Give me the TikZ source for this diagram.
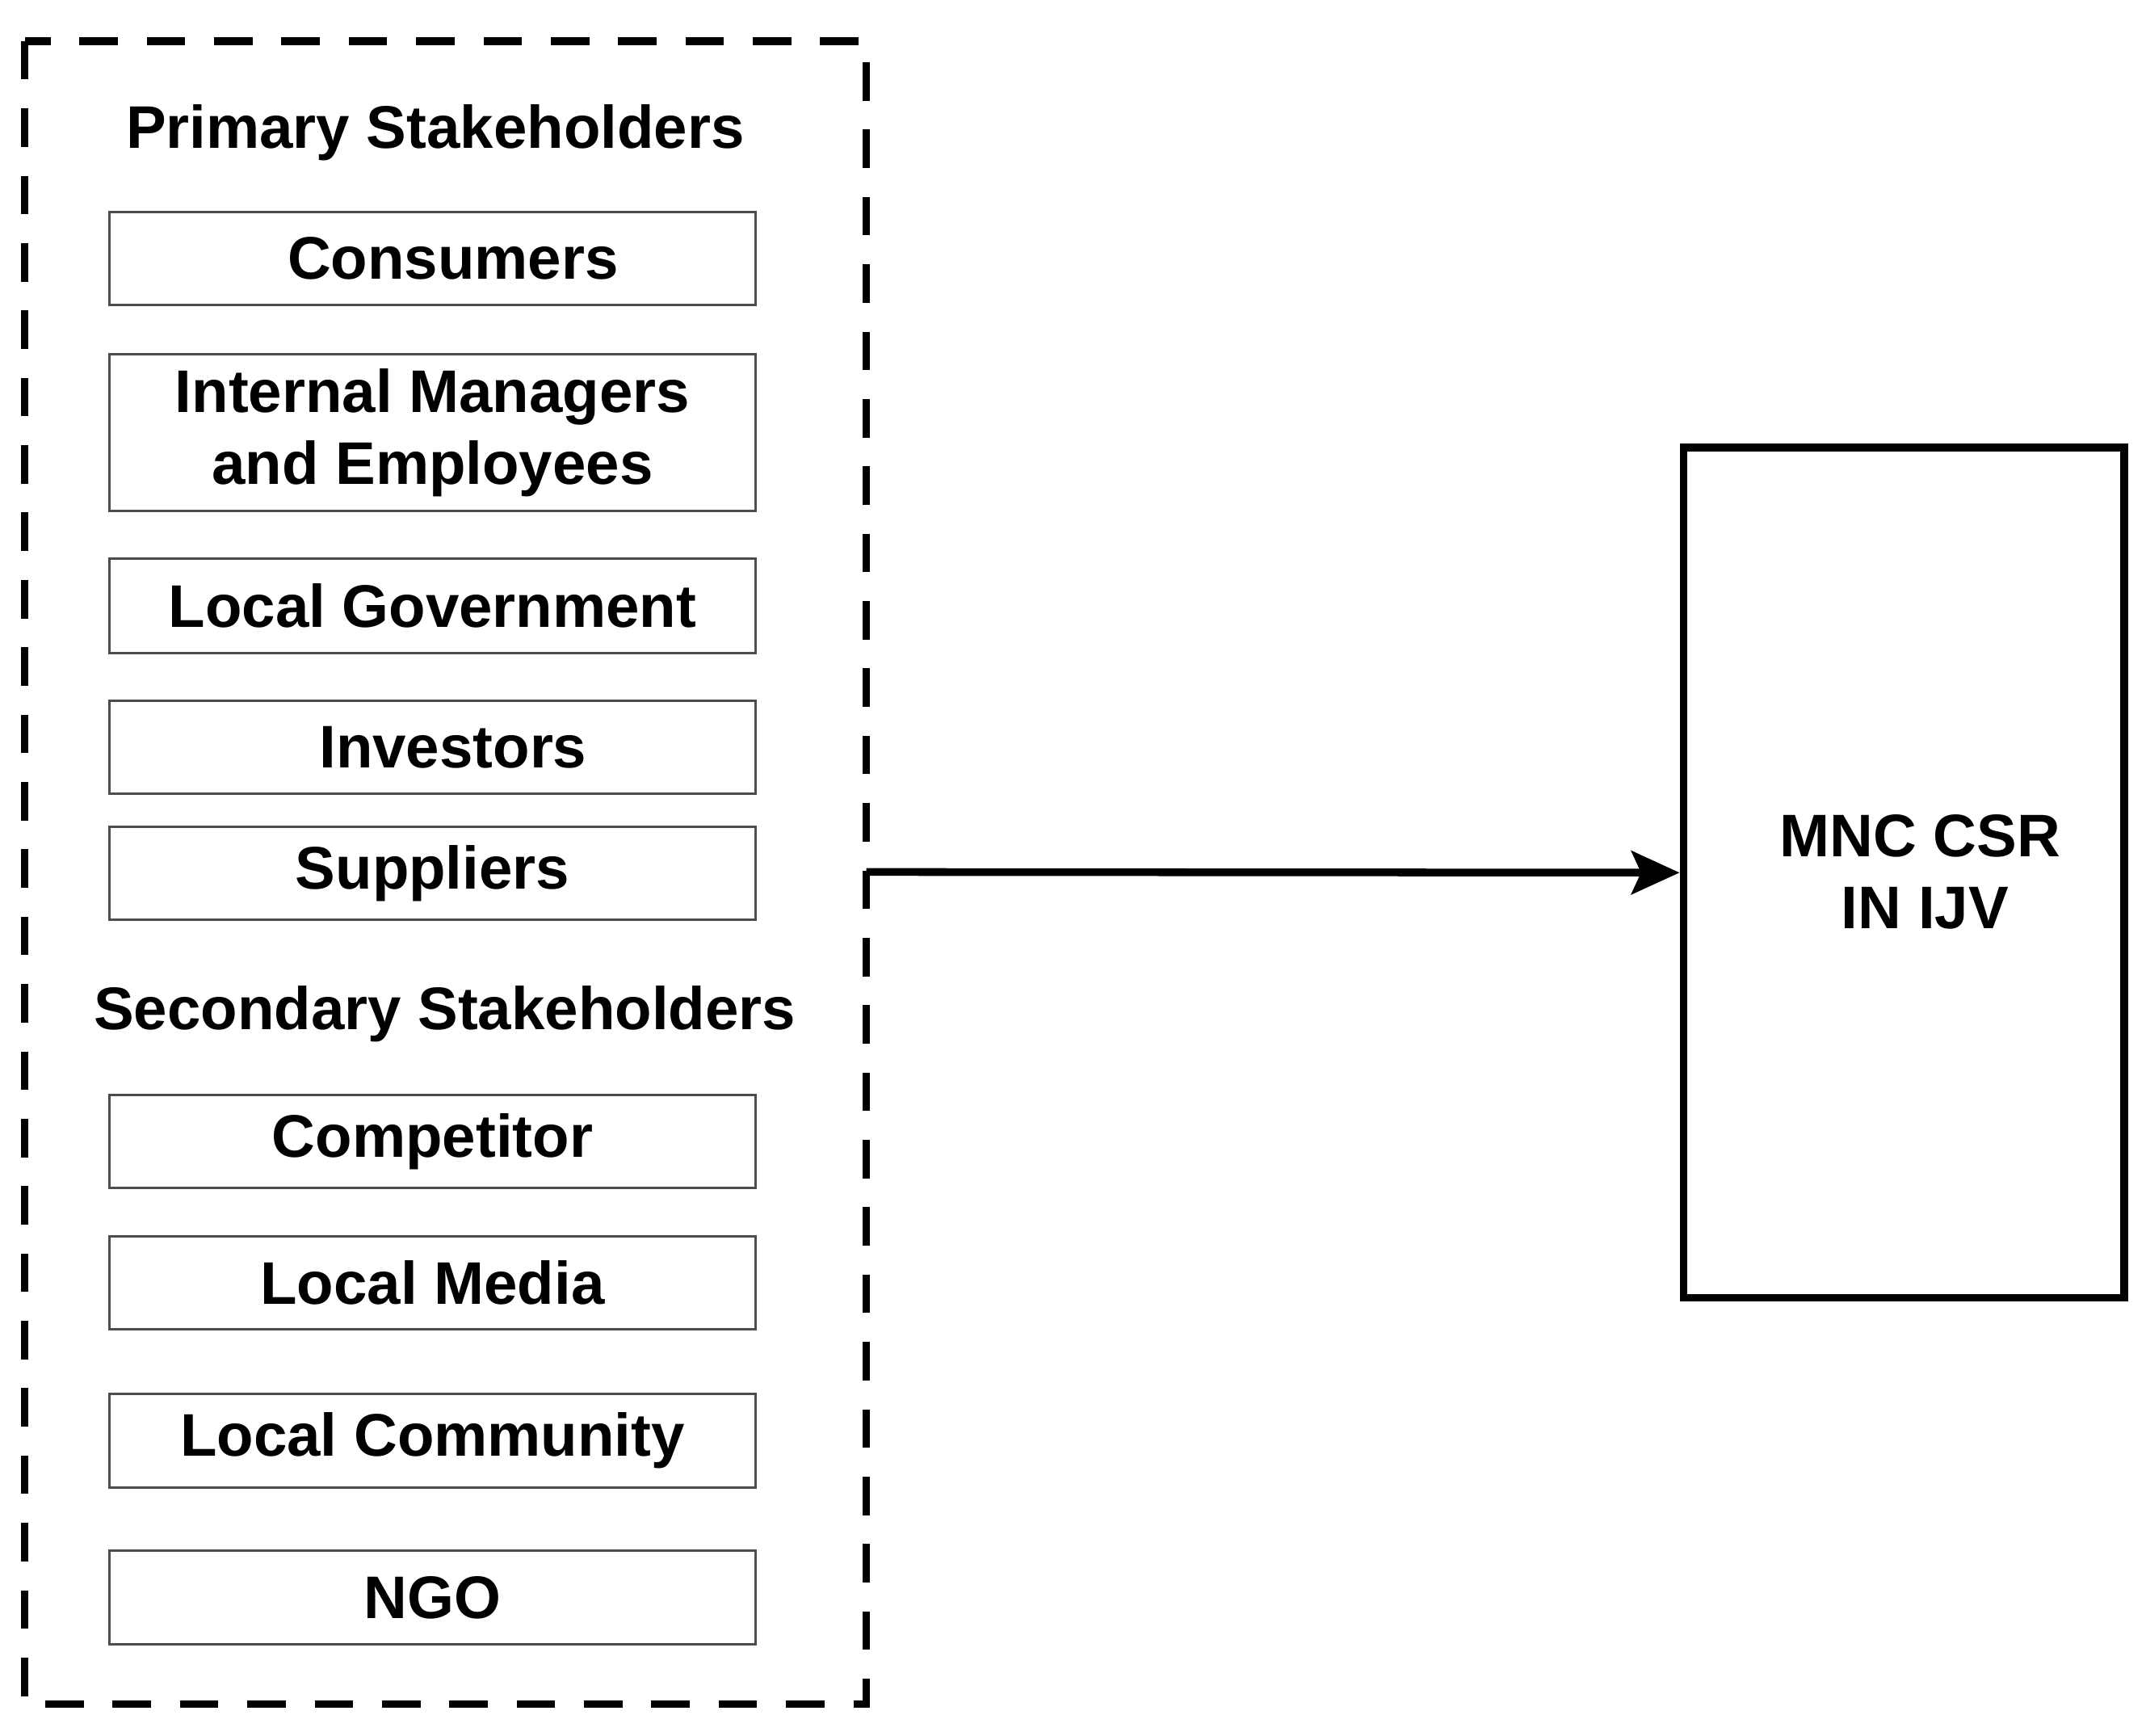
\documentclass[tikz,border=0pt]{standalone}
\usepackage{fontspec}
\setmainfont{Liberation Sans}
\usetikzlibrary{arrows.meta}
\begin{document}
\begin{tikzpicture}[x=0.1mm, y=0.1mm]
        \tikzset{every node/.style={font=\bfseries\fontsize{12.5}{15}\selectfont, inner sep=0pt},
          sbox/.style={draw=black!70, line width=0.5pt, minimum width=4.72cm, align=center},
          title/.style={}}
        \useasboundingbox (0,0) rectangle (1568,-1268);
        \draw [black, line width=1.6pt, dash pattern=on 8pt off 6pt] (18,-30) rectangle (633,-1245);
        \node [title] (prim) at (318,-97) {Primary Stakeholders};
        \node [sbox, minimum height=0.68cm] (cons) at (316,-189) {\hspace{0.3cm}Consumers};
        \node [sbox, minimum height=1.14cm] (intm) at (316,-316) {Internal Managers\\and Employees};
        \node [sbox, minimum height=0.69cm] (lgov) at (316,-442.5) {Local Government};
        \node [sbox, minimum height=0.68cm] (inv) at (316,-546) {\hspace{0.3cm}Investors};
        \node [sbox, minimum height=0.68cm] (supp) at (316,-638) {Suppliers};
        \node [title] (sec) at (325,-741) {Secondary Stakeholders};
        \node [sbox, minimum height=0.68cm] (comp) at (316,-834) {Competitor};
        \node [sbox, minimum height=0.68cm] (lmed) at (316,-937) {Local Media};
        \node [sbox, minimum height=0.69cm] (lcom) at (316,-1052.5) {Local Community};
        \node [sbox, minimum height=0.68cm] (ngo) at (316,-1167) {NGO};
        \node [draw=black, line width=1.6pt, minimum width=3.22cm, minimum height=6.21cm] (mnc) at (1391,-637.5) {};
        \node [align=left] (mnct) at (1403,-637) {MNC CSR\\\hspace{0.45cm}IN IJV};
        \coordinate (out) at (633,-637);
        \draw [black, line width=1.6pt, -{Stealth[length=10pt,width=9pt,inset=2pt]}] (out) -- (mnc.west);
\end{tikzpicture}
\end{document}
